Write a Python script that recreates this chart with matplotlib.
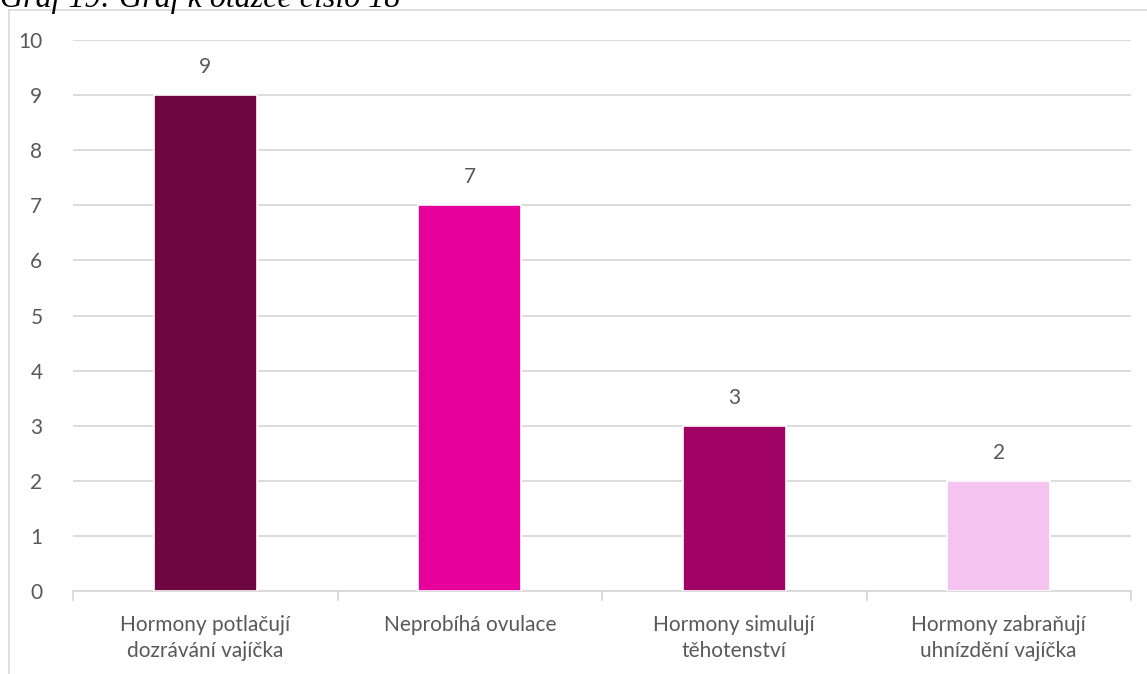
import matplotlib
matplotlib.use("Agg")
import matplotlib.pyplot as plt
from matplotlib.lines import Line2D

categories = [
    "Hormony potlačují\ndozrávání vajíčka",
    "Neprobíhá ovulace",
    "Hormony simulují\ntěhotenství",
    "Hormony zabraňují\nuhnízdění vajíčka",
]
values = [9, 7, 3, 2]
colors = ["#6D0641", "#E8009A", "#A00266", "#F5C3EF"]
yticks = list(range(0, 11))
title = "Graf 19: Graf k otázce číslo 18"

W, H = 1147, 674
fig = plt.figure(figsize=(W / 100, H / 100), dpi=100)
fig.patch.set_facecolor("white")

ax = fig.add_axes([73 / W, 1 - 591 / H, (1131 - 73) / W, (591 - 40) / H])

text_color = "#595959"
grid_color = "#D9D9D9"
font = "Lato"
fs = 15

x = list(range(len(categories)))
ax.bar(x, values, width=0.39, color=colors, edgecolor="white", linewidth=1.2, zorder=3)

for xi, v in zip(x, values):
    ax.annotate(str(v), (xi, v), xytext=(0, 13), textcoords="offset points",
                ha="center", va="bottom", fontsize=fs, color=text_color, family=font)

ax.set_xlim(-0.5, len(categories) - 0.5)
ax.set_ylim(0, 10)
ax.set_yticks(yticks)
ax.set_yticklabels([str(t) for t in yticks], family=font, fontsize=fs, color=text_color)
ax.yaxis.grid(True, color=grid_color, linewidth=1.3, zorder=0)
ax.tick_params(axis="y", length=0, pad=22)

ax.set_xticks(x)
ax.set_xticklabels(categories, family=font, fontsize=fs, color=text_color, linespacing=1.4)
ax.tick_params(axis="x", which="major", length=0, pad=17)
ax.set_xticks([i - 0.5 for i in range(len(categories) + 1)], minor=True)
ax.tick_params(axis="x", which="minor", length=7, width=1.3, color=grid_color)

for side in ["top", "right", "left"]:
    ax.spines[side].set_visible(False)
ax.spines["bottom"].set_color(grid_color)
ax.spines["bottom"].set_linewidth(1.3)

# chart frame
fig.add_artist(Line2D([9 / W, 9 / W], [1 - 10 / H, 0], transform=fig.transFigure,
                      color=grid_color, linewidth=1.2))
fig.add_artist(Line2D([9 / W, 1], [1 - 10 / H, 1 - 10 / H], transform=fig.transFigure,
                      color=grid_color, linewidth=1.2))

fig.text(0.0, 1 - 7 / H, title, family="Liberation Serif", style="italic",
         fontsize=23, color="black", ha="left", va="baseline")

fig.savefig("out.png", dpi=100)
